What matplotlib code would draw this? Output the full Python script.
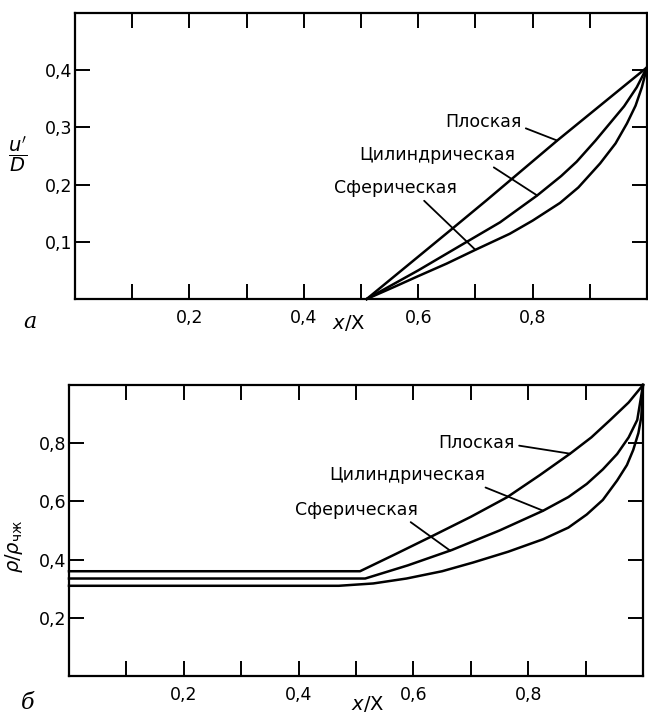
import numpy as np
import matplotlib
matplotlib.use("Agg")
import matplotlib.pyplot as plt
from matplotlib.ticker import FixedLocator, FixedFormatter

plt.rcParams['font.family'] = ['DejaVu Sans']
plt.rcParams['mathtext.fontset'] = 'dejavusans'

# panel a: velocity u'/D along x/X
xa_plane = [0.51, 0.656, 0.72, 0.843, 1.0]
ya_plane = [0.0, 0.12, 0.173, 0.277, 0.405]
xa_cyl = [0.51, 0.60, 0.685, 0.743, 0.808, 0.85, 0.877, 0.91, 0.935, 0.96, 0.982, 1.0]
ya_cyl = [0.0, 0.05, 0.10, 0.134, 0.181, 0.215, 0.24, 0.277, 0.307, 0.337, 0.37, 0.405]
xa_sph = [0.51, 0.56, 0.60, 0.65, 0.70, 0.76, 0.80, 0.848, 0.88, 0.918, 0.945,
          0.965, 0.98, 0.991, 1.0]
ya_sph = [0.0, 0.022, 0.04, 0.062, 0.086, 0.114, 0.137, 0.168, 0.195, 0.237, 0.272,
          0.307, 0.338, 0.37, 0.405]

# panel b: density rho/rho_cj along x/X
xb_plane = [0.0, 0.507, 0.57, 0.634, 0.70, 0.763, 0.82, 0.873, 0.91, 0.943, 0.975, 1.0]
yb_plane = [0.36, 0.36, 0.42, 0.482, 0.547, 0.614, 0.69, 0.764, 0.82, 0.88, 0.94, 1.0]
xb_cyl = [0.0, 0.516, 0.59, 0.667, 0.75, 0.826, 0.87, 0.902, 0.93, 0.955, 0.975, 0.99, 1.0]
yb_cyl = [0.335, 0.335, 0.38, 0.433, 0.50, 0.568, 0.615, 0.66, 0.71, 0.763, 0.82, 0.88, 1.0]
xb_sph = [0.0, 0.47, 0.53, 0.588, 0.65, 0.704, 0.765, 0.826, 0.87, 0.902, 0.93,
          0.955, 0.972, 0.983, 0.992, 0.997, 1.0]
yb_sph = [0.31, 0.31, 0.318, 0.335, 0.36, 0.39, 0.427, 0.47, 0.51, 0.555, 0.605,
          0.672, 0.725, 0.777, 0.835, 0.89, 1.0]

names = ['Плоская', 'Цилиндрическая', 'Сферическая']

x_major = [0.2, 0.4, 0.6, 0.8]
x_minor = [0.1, 0.3, 0.5, 0.7, 0.9]
xa_labels = ['0,2', '0,4', '0,6', '0,8']
ya_ticks = [0.1, 0.2, 0.3, 0.4]
ya_labels = ['0,1', '0,2', '0,3', '0,4']
yb_ticks = [0.2, 0.4, 0.6, 0.8]
yb_labels = ['0,2', '0,4', '0,6', '0,8']

W, H = 648, 721
fig = plt.figure(figsize=(W / 100, H / 100), dpi=100)

def px_axes(l, t, r, b):
    return fig.add_axes([l / W, 1 - b / H, (r - l) / W, (b - t) / H])

def style(ax, yticks, ylabels, ymax):
    ax.set_xlim(0, 1.0)
    ax.set_ylim(0, ymax)
    for s in ax.spines.values():
        s.set_linewidth(1.6)
    ax.xaxis.set_major_locator(FixedLocator(x_major))
    ax.xaxis.set_major_formatter(FixedFormatter(xa_labels))
    ax.xaxis.set_minor_locator(FixedLocator(x_minor))
    ax.yaxis.set_major_locator(FixedLocator(yticks))
    ax.yaxis.set_major_formatter(FixedFormatter(ylabels))
    ax.tick_params(which='both', direction='in', top=True, right=True,
                   length=11, width=1.4, labelsize=12.5)
    ax.tick_params(axis='x', pad=7)
    ax.tick_params(axis='y', pad=2)

def leader(ax, text, tx, ty, xs, ys, xe, relpos, ha='right'):
    ax.annotate(text, xy=(xe, np.interp(xe, xs, ys)), xytext=(tx, ty),
                ha=ha, va='center', fontsize=12.5,
                arrowprops=dict(arrowstyle='-', lw=1.3, color='black',
                                relpos=relpos, shrinkA=1, shrinkB=0))

# --- panel a ---
ax1 = px_axes(75, 13, 647, 299)
style(ax1, ya_ticks, ya_labels, 0.5)
for xs, ys in [(xa_plane, ya_plane), (xa_cyl, ya_cyl), (xa_sph, ya_sph)]:
    ax1.plot(xs, ys, color='black', lw=1.8, clip_on=False, solid_joinstyle='round')
leader(ax1, names[0], 0.781, 0.309, xa_plane, ya_plane, 0.843, (1.0, 0.25))
leader(ax1, names[1], 0.769, 0.252, xa_cyl, ya_cyl, 0.808, (0.83, 0.0))
leader(ax1, names[2], 0.668, 0.194, xa_sph, ya_sph, 0.70, (0.7, 0.0))

# --- panel b ---
ax2 = px_axes(69, 385, 643, 676)
style(ax2, yb_ticks, yb_labels, 1.0)
for xs, ys in [(xb_plane, yb_plane), (xb_cyl, yb_cyl), (xb_sph, yb_sph)]:
    ax2.plot(xs, ys, color='black', lw=1.8, clip_on=False, solid_joinstyle='round')
leader(ax2, names[0], 0.777, 0.80, xb_plane, yb_plane, 0.873, (1.0, 0.4))
leader(ax2, names[1], 0.725, 0.69, xb_cyl, yb_cyl, 0.826, (0.95, 0.0))
leader(ax2, names[2], 0.608, 0.572, xb_cyl, yb_cyl, 0.664, (0.9, 0.0))

# axis titles and panel letters
fig.text(18 / W, 1 - 155 / H, r"$\dfrac{u'}{D}$", fontsize=14,
         ha='center', va='center')
fig.text(14 / W, 1 - 546 / H, r"$\rho/\rho_{\mathrm{чж}}$", fontsize=14,
         rotation=90, ha='center', va='center')
fig.text(348 / W, 1 - 323 / H, r"$x$/X", fontsize=14, ha='center', va='center')
fig.text(367 / W, 1 - 704 / H, r"$x$/X", fontsize=14, ha='center', va='center')
fig.text(30 / W, 1 - 322 / H, 'а', fontsize=16, family='DejaVu Serif',
         style='italic', ha='center', va='center')
fig.text(28 / W, 1 - 703 / H, 'б', fontsize=16, family='DejaVu Serif',
         style='italic', ha='center', va='center')

fig.savefig('out.png', dpi=100)
